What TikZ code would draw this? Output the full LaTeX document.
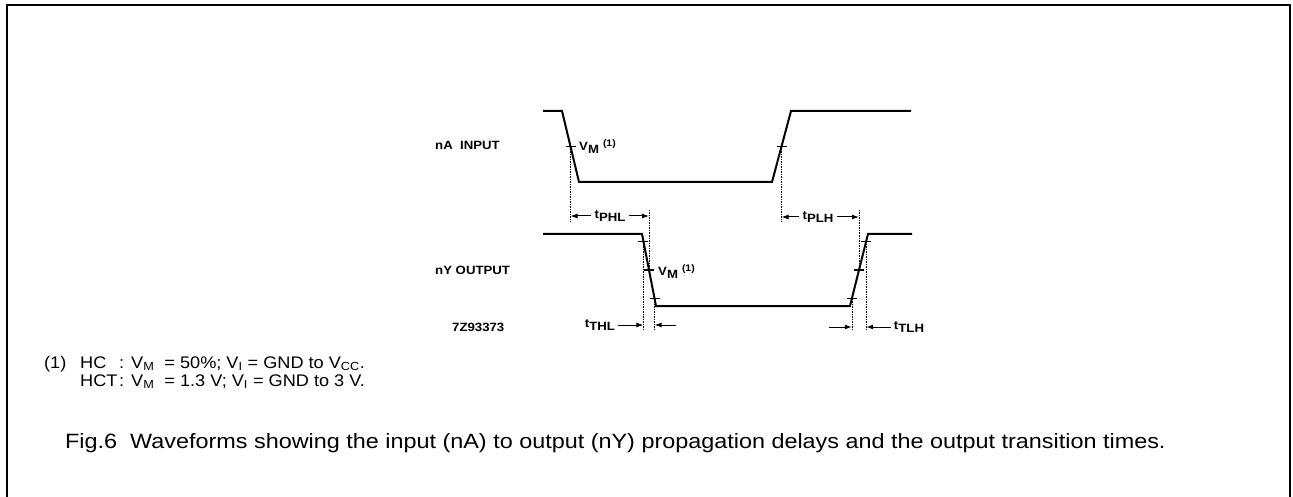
\documentclass[tikz,border=0pt]{standalone}
\usepackage{fontspec}
\setmainfont{Liberation Sans}
\newfontfamily\widefont[FakeStretch=1.13]{Liberation Sans}
\newfontfamily\notefont[FakeStretch=1.08]{Liberation Sans}
\newfontfamily\lblfont[FakeStretch=1.1]{Liberation Sans Bold}
\usetikzlibrary{arrows.meta}
\begin{document}
\begin{tikzpicture}[x=1pt,y=-1pt,
  wave/.style={line width=2pt,line join=miter},
  tickmark/.style={line width=1.2pt},
  guide/.style={line width=0.5pt,dash pattern=on 1.5pt off 1pt},
  dim/.style={line width=1pt,-{Latex[length=7pt,width=5pt]}},
  lbl/.style={font=\fontsize{12}{13}\lblfont,inner sep=0pt},
  note/.style={font=\fontsize{16.8}{18}\notefont,inner sep=0pt,anchor=base west},
  captxt/.style={font=\fontsize{20.7}{22}\widefont,inner sep=0pt,anchor=base west}]
\useasboundingbox (0,0) rectangle (1293,497);
% frame
\draw[line width=1.5pt] (7,500) -- (7,5) -- (1290,5) -- (1290,500);
% input waveform
\draw[wave] (543,111) -- (562,111) -- (579,182) -- (772,182) -- (791,111) -- (911,111);
% output waveform
\draw[wave] (543,234) -- (642,234) -- (656,306) -- (850,306) -- (868,234) -- (912,234);
% reference points
\coordinate (iF) at (570.5,146.5);
\coordinate (iR) at (781.5,146.5);
\coordinate (oFt) at (643.4,241.2);
\coordinate (oFm) at (649,270);
\coordinate (oFb) at (654.6,298.8);
\coordinate (oRb) at (851.8,298.8);
\coordinate (oRm) at (859,270);
\coordinate (oRt) at (866.2,241.2);
% ticks
\foreach \p in {iF,iR,oFt,oFm,oFb,oRb,oRm,oRt}
  \draw[tickmark] ([xshift=-5pt]\p) -- ([xshift=5pt]\p);
% guides
\draw[guide] (iF) -- (570.5,222);
\draw[guide] (iR) -- (781.5,222);
\draw[guide] (649,210) -- (oFm);
\draw[guide] (859,210) -- (oRm);
\draw[guide] (oFt) -- (643.4,330);
\draw[guide] (oFb) -- (654.6,330);
\draw[guide] (oRb) -- (851.8,330);
\draw[guide] (oRt) -- (866.2,330);
% labels
\node[lbl,anchor=west] (nA) at (435,145) {nA\ \ INPUT};
\node[lbl,anchor=west] (nY) at (435,270) {nY OUTPUT};
\node[lbl,anchor=west] (zid) at (452,327) {7Z93373};
\node[lbl,anchor=west] (vm1) at (579,147) {V\raisebox{-3pt}{M}\hspace{4pt}\raisebox{4pt}{\fontsize{9.5}{10}\selectfont(1)}};
\node[lbl,anchor=west] (vm2) at (658,272) {V\raisebox{-3pt}{M}\hspace{4pt}\raisebox{4pt}{\fontsize{9.5}{10}\selectfont(1)}};
% tPHL
\node[lbl] (tphl) at (610,216) {t\raisebox{-3pt}{PHL}};
\coordinate (tphlL) at (570.5,216);
\coordinate (tphlR) at (649,216);
\draw[dim] ([xshift=-3pt]tphl.west) -- (tphlL);
\draw[dim] ([xshift=3pt]tphl.east) -- (tphlR);
% tPLH
\node[lbl] (tplh) at (818,217) {t\raisebox{-3pt}{PLH}};
\coordinate (tplhL) at (781.5,217);
\coordinate (tplhR) at (859,217);
\draw[dim] ([xshift=-3pt]tplh.west) -- (tplhL);
\draw[dim] ([xshift=3pt]tplh.east) -- (tplhR);
% tTHL
\node[lbl] (tthl) at (600,325) {t\raisebox{-3pt}{THL}};
\coordinate (tthlA) at (643.4,325);
\coordinate (tthlB) at (654.6,325);
\coordinate (tthlC) at (676,325);
\draw[dim] ([xshift=3pt]tthl.east) -- (tthlA);
\draw[dim] (tthlC) -- (tthlB);
% tTLH
\node[lbl] (ttlh) at (909,327) {t\raisebox{-3pt}{TLH}};
\coordinate (ttlhA) at (829,327);
\coordinate (ttlhB) at (851.8,327);
\coordinate (ttlhC) at (866.2,327);
\draw[dim] (ttlhA) -- (ttlhB);
\draw[dim] ([xshift=-3pt]ttlh.west) -- (ttlhC);
% footnote
\node[note] (n1) at (44,368) {(1)};
\node[note] (hc) at (80,368) {HC};
\node[note] (c1) at (119,368) {:};
\node[note] (e1) at (131,368) {V\textsubscript{M}\ \ = 50\%; V\textsubscript{I} = GND to V\textsubscript{CC}.};
\node[note] (hct) at (80,386) {HCT};
\node[note] (c2) at (119,386) {:};
\node[note] (e2) at (131,386) {V\textsubscript{M}\ \ = 1.3 V; V\textsubscript{I} = GND to 3 V.};
% caption
\node[captxt] (fig) at (65,448) {Fig.6\ \ Waveforms showing the input (nA) to output (nY) propagation delays and the output transition times.};
\end{tikzpicture}
\end{document}
